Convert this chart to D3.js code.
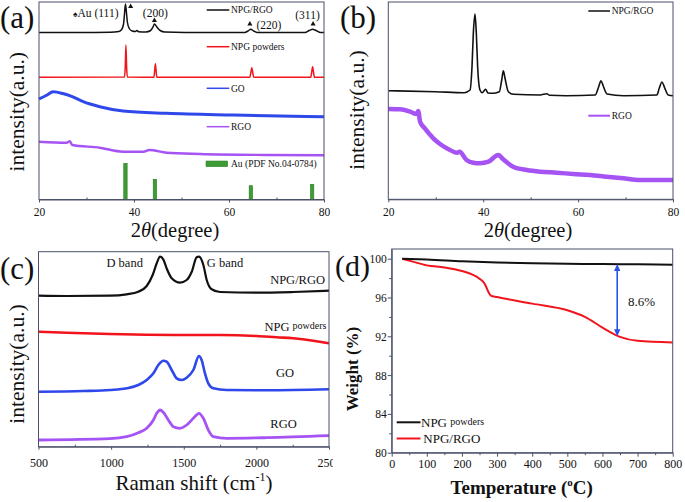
<!DOCTYPE html>
<html><head><meta charset="utf-8">
<script src="https://cdn.jsdelivr.net/npm/d3@7/dist/d3.min.js"></script>
<style>
body{margin:0;background:#fff}
text{font-family:"Liberation Serif","Times New Roman",serif;fill:#111}
</style>
</head><body>
<svg id="fig" width="685" height="502"></svg>
<script>
// ---------- tick values ----------
const xrdTicks = [20, 40, 60, 80];
const xrdMinor = [30, 50, 70];
const ramanTicks = [500, 1000, 1500, 2000, 2500];
const ramanMinor = [750, 1250, 1750, 2250];
const tgaXTicks = [0, 100, 200, 300, 400, 500, 600, 700, 800];
const tgaXMinor = [50, 150, 250, 350, 450, 550, 650, 750];
const tgaYTicks = [80, 84, 88, 92, 96, 100];
const tgaYMinor = [82, 86, 90, 94, 98];

// ---------- panel (a): XRD (2theta, intensity a.u.) ----------
const aNpgRgo = [[20,167],[30,167],[35,167.2],[36.8,168],[37.4,170],[37.8,175.5],[38.0,185.5],[38.2,195.5],[38.4,187.5],[38.6,177.5],[39.0,171],[39.6,168.5],[40.3,168],[40.6,169],[41.0,167.7],[42.5,167.5],[43.5,169],[44.0,172.5],[44.3,175.5],[44.8,172.5],[45.5,169],[46.5,167.5],[55,167],[63.3,167],[64.0,168.5],[64.6,170.2],[65.2,168.5],[66.0,167],[76,167],[76.9,169],[77.6,170.2],[78.3,169],[79.3,167],[80,167]];
const aNpgPowder = [[20,122.2],[38.0,122.4],[38.15,132],[38.3,154.5],[38.45,132],[38.6,122.5],[44.2,122.3],[44.35,129],[44.5,135.8],[44.65,129],[44.8,122.3],[64.4,122.2],[64.6,127],[64.8,131.8],[65.0,127],[65.2,122.2],[77.2,122.2],[77.4,127],[77.6,132.8],[77.8,127],[78.0,122.2],[80,122.2]];
const aGO = [[20,100.5],[21.5,104],[23,107.8],[25,106],[27,102.8],[29.3,97.8],[32.8,92.8],[37.7,88.5],[46.9,86.2],[60.9,84.5],[80,82.8]];
const aRGO = [[20,57.8],[25.8,56.8],[26.5,58.2],[27,54.5],[32.8,51.8],[37.7,47.8],[42,47.8],[43.2,49.5],[46.9,46.8],[53.9,45.5],[67.9,44.5],[80,44.2]];
const auRefPos = [38.2, 44.4, 64.6, 77.5];
const auRefHeight = [36.2, 20.2, 13.8, 15.2];
const peakMarkPos = [39.3, 44.3, 64.4, 77.7];
const peakMarkLevel = [193, 179, 175.5, 175.5];
const aLegend = ["NPG/RGO", "NPG powders", "GO", "RGO", "Au (PDF No.04-0784)"];

// ---------- panel (b) ----------
const bNpgRgo = [[20,108.6],[30,107.6],[36,106.6],[37.22,109.3],[37.64,132.6],[37.92,166],[38.27,185.3],[38.55,166],[38.83,132.6],[39.32,109.3],[39.8,106.6],[40.5,110],[41.0,106.3],[41.9,106],[43.4,107.6],[43.9,119.3],[44.24,128.6],[44.6,121],[45.3,107.6],[46.4,105],[52,104.3],[53.4,105.6],[54,104],[57.5,103.6],[63.6,104.3],[64.3,112],[64.83,118.6],[65.3,113.3],[66.1,105.3],[69.6,103.6],[76.6,104.3],[77.1,111],[77.68,117.3],[78.2,112],[79.0,104.3],[80,103.6]];
const bRGO = [[20,90.3],[22.5,90.0],[24.6,87.6],[26.0,85.3],[26.3,88.3],[26.7,77.6],[27.7,71.0],[29.5,61.0],[30.9,55.3],[33.0,49.3],[34.5,46.5],[35.0,47.6],[36.5,39.3],[37.9,36.6],[39.3,36.0],[41.1,37.6],[43.2,44.3],[44.2,40.0],[46.3,32.6],[49.2,29.3],[52.0,27.6],[55.5,26.6],[59.0,25.3],[62.5,24.3],[66.0,22.6],[69.5,21.0],[73.0,19.3],[80,19.3]];

// ---------- panel (c): Raman ----------
const cNpgRgo = [[500,151.0],[694,150.7],[992,151.0],[1107,152.4],[1187,155.0],[1245,160.7],[1286,171.7],[1314,183.4],[1337,190.0],[1359,187.4],[1382,178.4],[1417,168.4],[1474,164.0],[1520,166.7],[1555,175.0],[1589,189.4],[1605,190.0],[1635,181.7],[1658,166.7],[1692,157.4],[1750,154.7],[2002,154.0],[2254,154.7],[2500,156.0]];
const cNpgPowder = [[500,115.0],[694,114.0],[992,112.7],[1245,112.0],[1498,111.7],[1750,111.7],[2002,110.7],[2140,109.4],[2254,108.4],[2392,106.0],[2500,103.4]];
const cGO = [[500,55.0],[809,55.7],[992,56.7],[1107,58.4],[1187,61.7],[1245,66.7],[1291,73.4],[1325,81.7],[1359,86.0],[1382,85.0],[1417,76.7],[1451,68.4],[1486,66.7],[1520,69.0],[1566,76.7],[1605,90.7],[1623,86.7],[1646,73.4],[1669,63.4],[1704,58.4],[1796,56.7],[2071,56.4],[2500,57.4]];
const cRGO = [[500,6.7],[992,8.0],[1107,10.0],[1187,14.0],[1245,18.4],[1291,26.7],[1314,33.4],[1337,36.7],[1359,34.4],[1394,26.7],[1428,20.0],[1474,18.4],[1520,21.7],[1566,28.4],[1605,33.4],[1635,28.4],[1669,16.7],[1704,10.0],[1796,8.4],[2071,9.0],[2500,11.0]];

// ---------- panel (d): TGA ----------
const dNpgPowder = [[30,100],[100,99.92],[200,99.74],[300,99.6],[400,99.52],[500,99.48],[600,99.45],[700,99.42],[800,99.38]];
const dNpgRgo = [[30,100],[60,99.7],[100,99.31],[150,99.1],[200,98.73],[230,98.35],[250,97.94],[265,97.4],[275,96.6],[282,96.2],[300,96.05],[400,95.37],[500,94.68],[550,94.0],[600,92.9],[650,91.94],[700,91.53],[800,91.36]];
const dArrow = {temp: 642, from: 99.45, to: 92.0, label: "8.6%"};

// ---------- colours ----------
const C = {black:"#111", red:"#f2141c", blue:"#2f48ea", purple:"#a653f4", green:"#3d9c34", frame:"#4a5068"};

const svg = d3.select("#fig");
svg.append("rect").attr("width",685).attr("height",502).attr("fill","#fff");

function frame(g, x, y) {
  const [x0,x1] = x.range(), [y0,y1] = y.range();
  g.append("rect").attr("x",x0).attr("y",y1).attr("width",x1-x0).attr("height",y0-y1)
    .attr("fill","none").attr("stroke",C.frame).attr("stroke-width",1);
}
function bottomAxis(g, x, y, ticks, minor, fmt, labelDy, majorLen, minorLen, fs) {
  const yb = y.range()[0];
  const ax = g.append("g").attr("transform",`translate(0,${yb})`)
    .call(d3.axisBottom(x).tickValues(ticks).tickSize(majorLen).tickSizeOuter(0).tickFormat(fmt));
  ax.select(".domain").attr("stroke",C.frame);
  ax.selectAll(".tick line").attr("stroke",C.frame);
  ax.selectAll("text").attr("y",labelDy).attr("dy","0.35em")
    .style("font-family",'"Liberation Serif",serif').style("font-size",(fs||12)+"px").attr("fill","#111");
  const mn = g.append("g").attr("transform",`translate(0,${yb})`)
    .call(d3.axisBottom(x).tickValues(minor).tickSize(minorLen).tickSizeOuter(0).tickFormat(""));
  mn.select(".domain").remove();
  mn.selectAll(".tick line").attr("stroke",C.frame);
  return ax;
}
function curve(g, x, y, data, color, w) {
  g.append("path").datum(data)
    .attr("d", d3.line().x(d=>x(d[0])).y(d=>y(d[1])).curve(d3.curveMonotoneX))
    .attr("fill","none").attr("stroke",color).attr("stroke-width",w).attr("stroke-linejoin","round");
}
function legendLine(g, x0, x1, y, color, w) {
  g.append("line").attr("x1",x0).attr("x2",x1).attr("y1",y).attr("y2",y).attr("stroke",color).attr("stroke-width",w);
}
function txt(g, x, y, s, size, anchor, extra) {
  const t = g.append("text").attr("x",x).attr("y",y).attr("dy","0.35em")
    .attr("text-anchor",anchor||"start").style("font-size",size+"px").text(s);
  if (extra) extra(t);
  return t;
}
function ylabel(g, cx, cy, s, size, bold) {
  g.append("text").attr("transform",`translate(${cx},${cy}) rotate(-90)`)
    .attr("text-anchor","middle").attr("dy","0.35em").style("font-size",size+"px")
    .style("font-weight",bold?"bold":"normal").text(s);
}
function thetaLabel(g, cx, baseline) {
  const t = g.append("text").attr("x",cx).attr("y",baseline).attr("text-anchor","middle").style("font-size","20.5px");
  t.append("tspan").text("2");
  t.append("tspan").style("font-style","italic").text("θ");
  t.append("tspan").text("(degree)");
}

// ================= panel (a) =================
{
  const g = svg.append("g");
  const x = d3.scaleLinear().domain([20,80]).range([39,324]);
  const y = d3.scaleLinear().domain([0,197.5]).range([199.5,2]);
  g.selectAll("rect.au").data(auRefPos).enter().append("rect")
    .attr("x",d=>x(d)-1.7).attr("width",3.4)
    .attr("y",(d,i)=>y(auRefHeight[i])).attr("height",(d,i)=>y(0)-y(auRefHeight[i]))
    .attr("fill",C.green).attr("stroke","#2b7a22").attr("stroke-width",0.6);
  curve(g,x,y,aRGO,C.purple,2.4);
  curve(g,x,y,aGO,C.blue,3);
  curve(g,x,y,aNpgPowder,C.red,1.5);
  curve(g,x,y,aNpgRgo,C.black,1.5);
  frame(g,x,y);
  bottomAxis(g,x,y,xrdTicks,xrdMinor,d3.format("d"),12,3,-2,11.5);
  // peak markers (small triangles)
  g.selectAll("path.mk").data(peakMarkPos).enter().append("path")
    .attr("transform",(d,i)=>`translate(${x(d)},${y(peakMarkLevel[i])})`)
    .attr("d",d3.symbol(d3.symbolTriangle,11)).attr("fill","#111");
  const lbl = g.append("text").attr("x",73).attr("y",13.3).attr("dy","0.35em").style("font-size","11.5px");
  lbl.append("tspan").style("font-size","8.5px").text("♠");
  lbl.append("tspan").text("Au (111)");
  txt(g,155.3,13.3,"(200)",11.5,"middle");
  txt(g,269,25,"(220)",11.5,"middle");
  txt(g,307.5,15,"(311)",11.5,"middle");
  const ly = [10,46.7,88.3,126.7];
  const lc = [C.black,C.red,C.blue,C.purple];
  ly.forEach((yy,i)=>{ legendLine(g,206.7,229.3,yy,lc[i],1.5); txt(g,231,yy,aLegend[i],9.5); });
  g.append("rect").attr("x",206).attr("y",161).attr("width",21.7).attr("height",5.7).attr("fill",C.green).attr("stroke","#2b7a22").attr("stroke-width",0.5);
  txt(g,231,164,aLegend[4],9.5);
  txt(g,0,17,"(a)",31);
  ylabel(g,16.7,111.7,"intensity(a.u.)",21.5);
  thetaLabel(g,175,236.5);
}

// ================= panel (b) =================
{
  const g = svg.append("g");
  const x = d3.scaleLinear().domain([20,80]).range([388.3,673]);
  const y = d3.scaleLinear().domain([0,197.3]).range([199.3,2]);
  curve(g,x,y,bRGO,C.purple,4.5);
  curve(g,x,y,bNpgRgo,C.black,1.6);
  frame(g,x,y);
  bottomAxis(g,x,y,xrdTicks,xrdMinor,d3.format("d"),12.2,3,-2,11.5);
  legendLine(g,588.3,610,11,C.black,1.5); txt(g,611.7,11,"NPG/RGO",9.5);
  legendLine(g,588.3,610,115.7,C.purple,2); txt(g,611.7,115.7,"RGO",9.5);
  txt(g,340,17,"(b)",31);
  ylabel(g,356.7,110,"intensity(a.u.)",21.5);
  thetaLabel(g,528,236.5);
}

// ================= panel (c) =================
{
  svg.append("clipPath").attr("id","clipc").append("rect").attr("x",0).attr("y",240).attr("width",333).attr("height",262);
  const g = svg.append("g").attr("clip-path","url(#clipc)");
  const x = d3.scaleLinear().domain([500,2500]).range([38.5,329]);
  const y = d3.scaleLinear().domain([0,195]).range([446.7,251.7]);
  curve(g,x,y,cRGO,C.purple,2.8);
  curve(g,x,y,cGO,C.blue,2.6);
  curve(g,x,y,cNpgPowder,C.red,2.6);
  curve(g,x,y,cNpgRgo,C.black,2.2);
  frame(g,x,y);
  bottomAxis(g,x,y,ramanTicks,ramanMinor,d3.format("d"),16.6,3,-2,12);
  txt(g,124.7,262.3,"D band",12.5,"middle");
  txt(g,225,262.3,"G band",12.5,"middle");
  txt(g,325,279.3,"NPG/RGO",12.5,"end");
  const np = g.append("text").attr("x",326.5).attr("y",326.5).attr("dy","0.35em").attr("text-anchor","end").style("font-size","12.5px");
  np.append("tspan").text("NPG ");
  np.append("tspan").style("font-size","10px").attr("dy","-2").text("powders");
  txt(g,285,372.3,"GO",12.5,"middle");
  txt(g,283.5,423.3,"RGO",12.5,"middle");
  txt(g,0,268,"(c)",31);
  ylabel(g,16.7,364,"intensity(a.u.)",21.5);
  const xl = g.append("text").attr("x",194).attr("y",483).attr("dy","0.35em").attr("text-anchor","middle").style("font-size","21px");
  xl.append("tspan").text("Raman shift (cm");
  xl.append("tspan").style("font-size","12px").attr("dy","-9").text("-1");
  xl.append("tspan").attr("dy","9").text(")");
}

// ================= panel (d) =================
{
  const g = svg.append("g");
  const x = d3.scaleLinear().domain([0,800]).range([391.7,672.7]);
  const y = d3.scaleLinear().domain([80,101]).range([452.7,249]);
  curve(g,x,y,dNpgRgo,C.red,2);
  curve(g,x,y,dNpgPowder,C.black,2);
  frame(g,x,y);
  bottomAxis(g,x,y,tgaXTicks,tgaXMinor,d3.format("d"),11.6,4,2.5,12);
  const ya = g.append("g").attr("transform",`translate(${x.range()[0]},0)`)
    .call(d3.axisLeft(y).tickValues(tgaYTicks).tickSize(4).tickSizeOuter(0).tickFormat(d3.format("d")));
  ya.select(".domain").attr("stroke",C.frame);
  ya.selectAll(".tick line").attr("stroke",C.frame);
  ya.selectAll("text").attr("x",-5).attr("dy","0.35em").style("font-family",'"Liberation Serif",serif').style("font-size","11.5px").attr("fill","#111");
  const ym = g.append("g").attr("transform",`translate(${x.range()[0]},0)`)
    .call(d3.axisLeft(y).tickValues(tgaYMinor).tickSize(2.5).tickFormat(""));
  ym.select(".domain").remove();
  ym.selectAll(".tick line").attr("stroke",C.frame);
  const ax = x(dArrow.temp);
  const a1 = y(dArrow.from), a2 = y(dArrow.to);
  g.append("line").attr("x1",ax).attr("x2",ax).attr("y1",a1+5).attr("y2",a2-5).attr("stroke","#2a52e6").attr("stroke-width",1.6);
  g.append("path").attr("d",`M${ax},${a1} L${ax-3.2},${a1+7} L${ax+3.2},${a1+7} Z`).attr("fill","#2a52e6");
  g.append("path").attr("d",`M${ax},${a2} L${ax-3.2},${a2-7} L${ax+3.2},${a2-7} Z`).attr("fill","#2a52e6");
  txt(g,641.5,301.7,dArrow.label,13,"middle");
  legendLine(g,396.7,420.5,422.3,C.black,2);
  const l1 = g.append("text").attr("x",421).attr("y",422.3).attr("dy","0.35em").style("font-size","13px");
  l1.append("tspan").text("NPG ");
  l1.append("tspan").style("font-size","10px").attr("dy","-2").text("powders");
  legendLine(g,396.7,420.5,438.5,C.red,2);
  txt(g,423.3,438.5,"NPG/RGO",13);
  txt(g,335,265,"(d)",30);
  ylabel(g,351.7,369,"Weight (%)",17,true);
  const xl = g.append("text").attr("x",521.7).attr("y",487).attr("dy","0.35em").attr("text-anchor","middle").style("font-size","19px").style("font-weight","bold");
  xl.append("tspan").text("Temperature (");
  xl.append("tspan").style("font-size","11px").attr("dy","-8").text("o");
  xl.append("tspan").attr("dy","8").text("C)");
}
</script>
</body></html>
